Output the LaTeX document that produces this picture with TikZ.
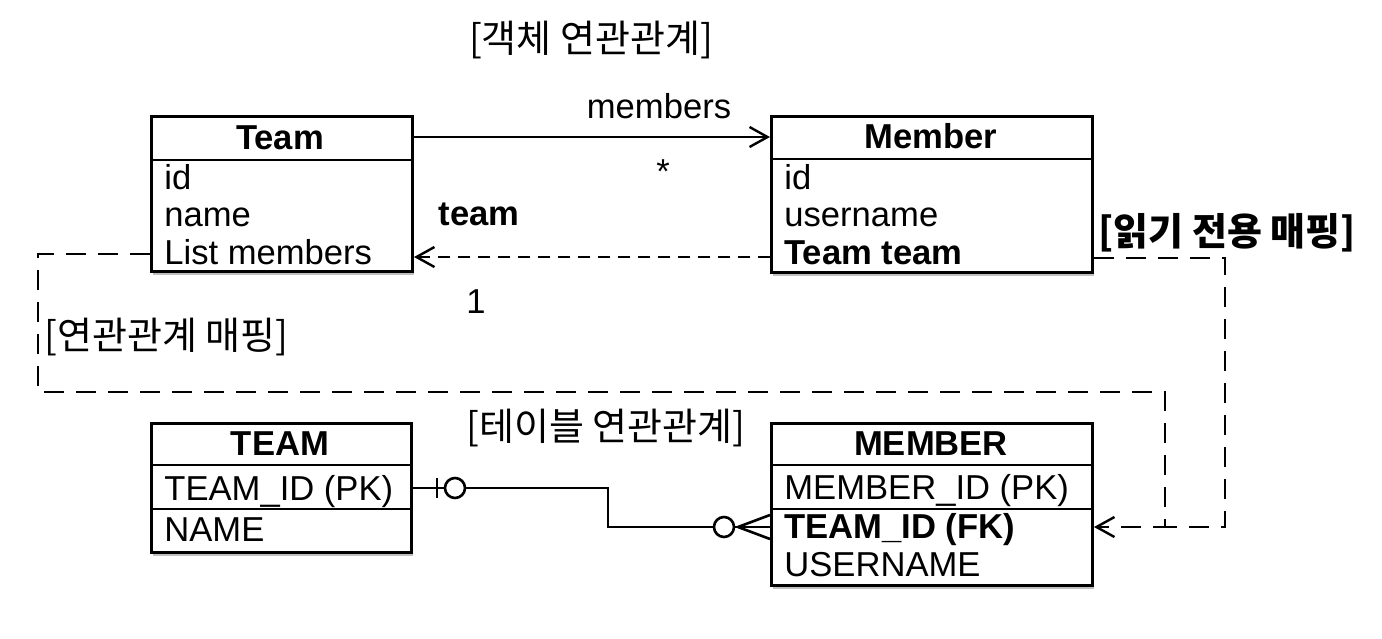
\documentclass[tikz,border=0pt]{standalone}
\usepackage{fontspec}
\setmainfont{Liberation Sans}
\newfontfamily\kr{Noto Sans CJK KR}
\usetikzlibrary{arrows.meta,shadows}
\begin{document}
\begin{tikzpicture}[x=0.5pt,y=-0.5pt,
  box/.style={draw, line width=1.5pt, fill=white, inner sep=0pt, anchor=north west,
    drop shadow={shadow xshift=0.8pt, shadow yshift=-1.6pt, fill=black, opacity=0.25}},
  lbl/.style={inner sep=0pt, font=\fontsize{17.3}{20}\selectfont},
  blbl/.style={lbl, font=\bfseries\fontsize{17.3}{20}\selectfont},
  klbl/.style={inner sep=0pt, font=\kr\fontsize{19}{22}\selectfont},
  row/.style={lbl, anchor=base west},
  brow/.style={blbl, anchor=base west},
  head/.style={blbl, anchor=base},
  sep/.style={line width=1.3pt},
  conn/.style={line width=1.3pt},
  dashA/.style={line width=1.3pt, dash pattern=on 10pt off 6pt},
  dashB/.style={line width=1.3pt, dash pattern=on 6pt off 4pt},
  otip/.style={-{Straight Barb[length=9pt, width=10pt, line width=1.2pt]}},
  ring/.style={circle, draw, line width=1.3pt, minimum size=10pt, inner sep=0pt, fill=white}
]
\useasboundingbox (0,0) rectangle (1382,638);
\fill[white] (0,0) rectangle (1382,638);

% titles
\node[klbl] (t1) at (591,40) {[객체 연관관계]};
\node[klbl] (t2) at (606,428) {[테이블 연관관계]};
\node[klbl, anchor=west] (t3) at (44,337) {[연관관계 매핑]};
\node[klbl, font=\kr\bfseries\fontsize{19}{22}\selectfont, anchor=west] (t4) at (1098,233) {[읽기 전용 매핑]};

% Team class
\node[box, minimum width=130.5pt, minimum height=77.5pt] (team) at (150,115) {};
\draw[sep] (team.west |- 0,160) -- (team.east |- 0,160);
\node[head] (teamh) at (280,149) {Team};
\node[row] (tid) at (164,189) {id};
\node[row] (tname) at (164,226) {name};
\node[row] (tlist) at (164,264) {List members};

% Member class
\node[box, minimum width=160.5pt, minimum height=78pt] (member) at (770,115) {};
\draw[sep] (member.west |- 0,159) -- (member.east |- 0,159);
\node[head] (memberh) at (931,148) {Member};
\node[row] (mid) at (784,189) {id};
\node[row] (muser) at (784,226) {username};
\node[brow] (mteam) at (784,264) {Team team};

% TEAM table
\node[box, minimum width=130pt, minimum height=64.5pt] (TEAM) at (150,422) {};
\draw[sep] (TEAM.west |- 0,465) -- (TEAM.east |- 0,465);
\draw[sep] (TEAM.west |- 0,509) -- (TEAM.east |- 0,509);
\node[head] (TEAMh) at (280,455) {TEAM};
\node[row] (tpk) at (164,500) {TEAM\_ID (PK)};
\node[row] (tnm) at (164,541) {NAME};

% MEMBER table
\node[box, minimum width=160.5pt, minimum height=81pt] (MEMBER) at (770,422) {};
\draw[sep] (MEMBER.west |- 0,465) -- (MEMBER.east |- 0,465);
\draw[sep] (MEMBER.west |- 0,509) -- (MEMBER.east |- 0,509);
\node[head] (MEMBERh) at (931,455) {MEMBER};
\node[row] (mpk) at (784,499) {MEMBER\_ID (PK)};
\node[brow] (mfk) at (784,538) {TEAM\_ID (FK)};
\node[row] (mus) at (784,576) {USERNAME};

% object association
\coordinate (ya) at (0,137);
\coordinate (yb) at (0,257);
\draw[conn, otip] (team.east |- ya) -- (member.west |- ya);
\draw[dashB, otip] (member.west |- yb) -- (team.east |- yb);
\node[lbl, anchor=base] (lmem) at (659,118) {members};
\node[lbl] (lstar) at (663,172) {*};
\node[blbl, anchor=base] (lteam) at (479,225) {team};
\node[lbl, anchor=base] (lone) at (476,313) {1};

% mapping dashed lines
\coordinate (yfk) at (0,527);
\coordinate (L1) at (38,254);
\coordinate (L2) at (1165,392);
\coordinate (R1) at (1225,258);
\draw[dashA, otip] (team.west |- L1) -- (L1) |- (L2) |- (MEMBER.east |- yfk);
\draw[dashA] (member.east |- R1) -- (R1) |- (L2 |- yfk);

% table relation (crow's foot)
\node[ring] (o1) at (455,488) {};
\node[ring] (o2) at (724,527) {};
\coordinate (bend) at (608,507);
\coordinate (tick) at (437,488);
\coordinate (cf) at (738,527);
\draw[conn] (TEAM.east |- o1) -- (o1.west);
\draw[conn] ([yshift=5pt]tick) -- ([yshift=-5pt]tick);
\draw[conn] (o1.east) -| (bend) |- (o2.west);
\draw[conn] (o2.east) -- (MEMBER.west |- o2);
\draw[conn] (cf) -- ([yshift=6pt]MEMBER.west |- o2);
\draw[conn] (cf) -- ([yshift=-6pt]MEMBER.west |- o2);
\end{tikzpicture}
\end{document}
